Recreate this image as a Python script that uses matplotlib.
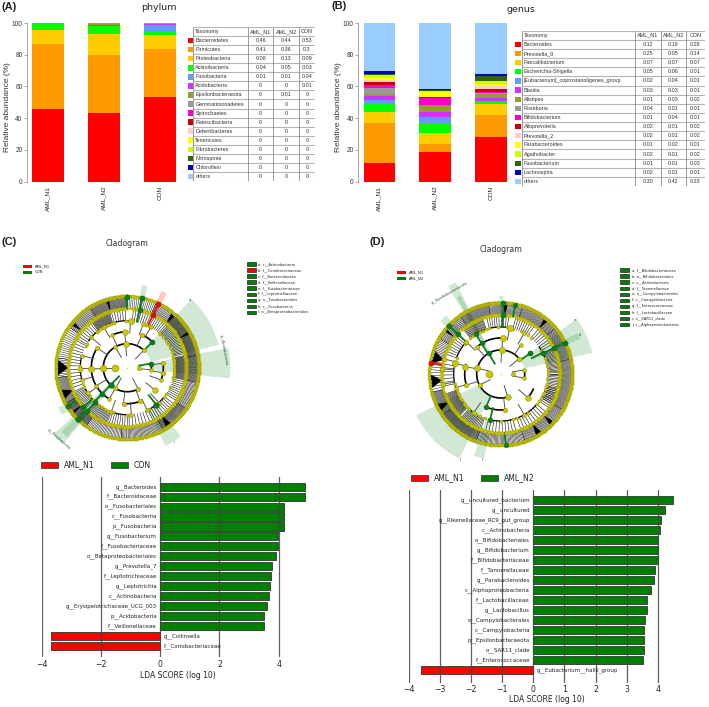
import numpy as np
import matplotlib
matplotlib.use('Agg')
import matplotlib.pyplot as plt
from matplotlib.patches import Wedge, Polygon, Patch

W, H = 709, 707

samples = ['AML_N1', 'AML_N2', 'CON']

""" stacked bars """
colours = ['#FF0000', '#FF9900', '#FFCC00', '#00FF00', '#6699FF', '#CC33FF', '#999933', '#999999',
           '#FF00CC', '#CC0000', '#FFCCCC', '#FFFF00', '#CCFF00', '#336600', '#0000CC', '#99CCFF']

phylum_names = ['Bacteroidetes', 'Firmicutes', 'Proteobacteria', 'Actinobacteria', 'Fusobacteria',
                'Acidobacteria', 'Epsilonbacteraeota', 'Gemmatimonadetes', 'Spirochaetes', 'Patescibacteria',
                'Deferribacteres', 'Tenericutes', 'Fibrobacteres', 'Nitrospirae', 'Chloroflexi', 'others']
phylum_n1 = [45.8, 40.9, 8.9, 3.8, 0.5, 0.02, 0.02, 0.02, 0.01, 0.01, 0, 0, 0, 0, 0, 0.02]
phylum_n2 = [43.4, 36.6, 13.0, 5.1, 0.2, 0.3, 1.0, 0.4, 0, 0, 0, 0, 0, 0, 0, 0]
phylum_con = [53.3, 30.3, 8.6, 2.9, 3.9, 0.5, 0.1, 0.1, 0.3, 0, 0, 0, 0, 0, 0, 0]

phylum_rows = [['0.46', '0.44', '0.53'], ['0.41', '0.36', '0.3'], ['0.08', '0.13', '0.09'], ['0.04', '0.05', '0.03'],
               ['0.01', '0.01', '0.04'], ['0', '0', '0.01'], ['0', '0.01', '0'], ['0', '0', '0'], ['0', '0', '0'],
               ['0', '0', '0'], ['0', '0', '0'], ['0', '0', '0'], ['0', '0', '0'], ['0', '0', '0'], ['0', '0', '0'],
               ['0', '0', '0']]

genus_names = ['Bacteroides', 'Prevotella_9', 'Faecalibacterium', 'Escherichia-Shigella',
               '[Eubacterium]_coprostanoligenes_group', 'Blautia', 'Alistipes', 'Roseburia', 'Bifidobacterium',
               'Alloprevotella', 'Prevotella_2', 'Parabacteroides', 'Agathobacter', 'Fusobacterium', 'Lachnospira',
               'others']
genus_n1 = [11.8, 24.8, 7.0, 5.2, 2.6, 2.5, 1.3, 3.8, 1.6, 2.4, 1.2, 0.8, 2.2, 0.4, 2.4, 30.0]
genus_n2 = [18.9, 4.7, 6.7, 6.1, 4.2, 3.4, 4.0, 0.2, 4.2, 0.9, 0.2, 2.9, 0.6, 0.5, 0.8, 41.7]
genus_con = [27.8, 13.9, 6.9, 1.3, 0.8, 1.7, 2.8, 0.8, 0.2, 2.3, 1.9, 0.9, 2.3, 2.7, 1.3, 32.4]

genus_rows = [['0.12', '0.19', '0.28'], ['0.25', '0.05', '0.14'], ['0.07', '0.07', '0.07'], ['0.05', '0.06', '0.01'],
              ['0.02', '0.04', '0.01'], ['0.03', '0.03', '0.01'], ['0.01', '0.03', '0.02'], ['0.04', '0.01', '0.01'],
              ['0.01', '0.04', '0.01'], ['0.02', '0.01', '0.02'], ['0.02', '0.01', '0.02'], ['0.01', '0.02', '0.01'],
              ['0.02', '0.01', '0.02'], ['0.01', '0.01', '0.03'], ['0.02', '0.01', '0.01'], ['0.30', '0.42', '0.33']]

""" LDA bars """
lda_c_names = ['g__Bacteroides', 'f__Bacteroidaceae', 'o__Fusobacteriales', 'c__Fusobacteriia', 'p__Fusobacteria',
               'g__Fusobacterium', 'f__Fusobacteriaceae', 'o__Betaproteobacteriales', 'g__Prevotella_7',
               'f__Leptotrichiaceae', 'g__Leptotrichia', 'c__Actinobacteria', 'g__Erysipelotrichaceae_UCG_003',
               'p__Acidobacteria', 'f__Veillonellaceae', 'g__Collinsella', 'f__Coriobacteriaceae']
lda_c = [4.88, 4.88, 4.18, 4.18, 4.18, 3.98, 3.98, 3.91, 3.79, 3.73, 3.7, 3.66, 3.61, 3.52, 3.52, -3.7, -3.7]

lda_d_names = ['g__uncultured_bacterium', 'g__uncultured', 'g__Rikenellaceae_RC9_gut_group', 'c__Actinobacteria',
               'o__Bifidobacteriales', 'g__Bifidobacterium', 'f__Bifidobacteriaceae', 'f__Tannerellaceae',
               'g__Parabacteroides', 'c__Alphaproteobacteria', 'f__Lactobacillaceae', 'g__Lactobacillus',
               'o__Campylobacterales', 'c__Campylobacteria', 'p__Epsilonbacteraeota', 'o__SAR11_clade',
               'f__Enterococcaceae', 'g__Eubacterium__hallii_group']
lda_d = [4.5, 4.22, 4.11, 4.08, 4.02, 4.02, 4.02, 3.9, 3.89, 3.8, 3.65, 3.64, 3.59, 3.57, 3.56, 3.55, 3.54, -3.62]

""" cladogram legends """
key_c = ['a: c__Actinobacteria', 'b: f__Coriobacteriaceae', 'c: f__Bacteroidaceae', 'd: f__Veillonellaceae',
         'e: f__Fusobacteriaceae', 'f: f__Leptotrichiaceae', 'g: o__Fusobacteriales', 'h: c__Fusobacteriia',
         'i: o__Betaproteobacteriales']
key_c_col = ['g', 'r', 'g', 'g', 'g', 'g', 'g', 'g', 'g']
key_d = ['a: f__Bifidobacteriaceae', 'b: o__Bifidobacteriales', 'c: c__Actinobacteria', 'd: f__Tannerellaceae',
         'e: o__Campylobacterales', 'f: c__Campylobacteria', 'g: f__Enterococcaceae', 'h: f__Lactobacillaceae',
         'i: o__SAR11_clade', 'j: c__Alphaproteobacteria']
key_d_col = ['g'] * 10

""" cladogram C, all read off the picture: (angle deg, radius px, ...) """
c_wedges = [(14, 47, 24, 94), (-6, 11, 24, 103), (-64, -52, 48, 87), (222, 230, 24, 100), (224, 229, 36, 92),
            (210, 216, 59, 80), (76, 80, 59, 84), (62, 66, 59, 84)]
c_wedge_col = ['g', 'g', 'g', 'g', 'g', 'g', 'g', 'r']
c_arcs = [(24, 47, 297), (24, -5, 10), (36, 94, 115), (36, 147, 240), (36, 264, 291), (36, -20, 7), (36, 46, 66),
          (47, 165, 195), (47, 250, 275), (47, 295, 321), (47, 86, 145), (47, 205, 240)]
c_fan = [(-12, 12, 30), (14, 46, 22), (48, 62, 7), (66, 84, 8), (92, 106, 6), (108, 128, 24), (130, 150, 8),
         (152, 178, 9), (182, 200, 6), (204, 224, 14), (228, 250, 18), (252, 270, 8), (272, 296, 8),
         (298, 322, 10), (326, 346, 10)]
c_leaf = [(-12, 10, 36), (10, 48, 70), (48, 66, 18), (66, 90, 16), (90, 122, 50), (122, 145, 24), (145, 172, 16),
          (172, 188, 12), (188, 210, 28), (210, 235, 44), (235, 265, 26), (265, 300, 36), (300, 325, 40),
          (325, 348, 24)]
c_black = [(173, 187), (198, 207), (139, 143), (47, 51), (-57, -52), (105, 108), (218, 221), (28, 31)]
c_nodes = [(180, 12, 26, 'y'), (0, 12, 11, 'y'),
           (94, 24, 17, 'y'), (120, 24, 8, 'y'), (180, 24, 22, 'y'), (240, 24, 11, 'y'), (297, 24, 11, 'y'),
           (47, 24, 11, 'y'), (-5, 24, 8, 'y'), (10, 24, 14, 'g'), (226, 24, 17, 'g'),
           (182, 36, 20, 'y'), (147, 36, 11, 'y'), (94, 36, 17, 'y'), (115, 36, 8, 'y'), (264, 36, 11, 'y'),
           (291, 36, 11, 'y'), (321, 36, 17, 'y'), (66, 36, 11, 'y'), (7, 36, 11, 'y'), (-8, 36, 11, 'y'),
           (-20, 36, 8, 'y'), (46, 36, 14, 'g'), (226, 36, 14, 'g'), (240, 36, 8, 'y'), (210, 36, 8, 'y'),
           (181, 47, 14, 'y'), (165, 47, 8, 'y'), (195, 47, 8, 'y'), (86, 47, 20, 'y'), (120, 47, 8, 'y'),
           (140, 47, 8, 'y'), (213, 47, 8, 'y'), (250, 47, 8, 'y'), (275, 47, 8, 'y'), (295, 47, 8, 'y'),
           (312, 47, 8, 'y'), (60, 47, 8, 'y'), (70, 47, 8, 'y'), (226, 47, 14, 'g'), (308, 47, 17, 'g'),
           (227, 59, 14, 'g'), (222, 59, 14, 'g'), (78, 59, 14, 'g'), (64, 59, 14, 'r'),
           (226, 71, 17, 'g'), (78, 71, 14, 'g'), (90, 71, 14, 'g'), (213, 71, 14, 'g'), (64, 71, 14, 'r')]
c_labels = [(10.6, 98, 'p__Acidobacteria', -80), (226.6, 99, 'p__Fusobacteria', -42), (47, 92, 'a', 0),
            (-58, 88, 'i', 0)]

""" cladogram D """
d_wedges = [(13, 36, 24, 94), (206, 244, 24, 94), (252, 259, 47, 86), (116, 121, 24, 102), (117, 120, 36, 88),
            (133, 139, 59, 80), (88, 91, 59, 78), (24, 28, 36, 87)]
d_wedge_col = ['g'] * 8
d_arcs = [(24, 35, 288), (24, -10, 10), (36, 87, 132), (36, 165, 200), (36, 246, 277), (36, 319, 335), (47, 79, 122),
          (47, 165, 197), (47, 137, 160), (47, 257, 320), (47, 20, 35), (47, 205, 240)]
d_fan = [(-30, 0, 20), (0, 25, 20), (30, 50, 8), (55, 75, 9), (82, 104, 10), (108, 130, 20), (140, 160, 8),
         (170, 192, 7), (200, 225, 26), (228, 250, 16), (255, 285, 10), (290, 320, 10), (325, 345, 10)]
d_leaf = [(-30, 12, 56), (12, 40, 36), (40, 72, 40), (72, 100, 32), (100, 125, 34), (125, 150, 26), (150, 165, 12),
          (165, 195, 14), (195, 215, 28), (215, 250, 60), (250, 290, 40), (290, 330, 46)]
d_black = [(160, 172), (180, 192), (205, 212), (48, 52), (-46, -42), (-60, -55), (84, 88), (140, 143)]
d_nodes = [(180, 12, 26, 'y'), (0, 12, 10, 'y'),
           (88, 24, 20, 'y'), (120, 24, 13, 'g'), (166, 24, 20, 'y'), (208, 24, 11, 'y'), (287, 24, 17, 'y'),
           (40, 24, 13, 'y'), (10, 24, 8, 'y'), (-10, 24, 8, 'y'),
           (87, 36, 20, 'y'), (168, 36, 20, 'y'), (198, 36, 11, 'y'), (246, 36, 13, 'g'), (277, 36, 11, 'y'),
           (319, 36, 17, 'y'), (122, 36, 13, 'g'), (132, 36, 11, 'y'), (35, 36, 14, 'g'), (55, 36, 8, 'y'),
           (79, 47, 21, 'y'), (167, 47, 20, 'y'), (197, 47, 8, 'y'), (257, 47, 13, 'g'), (27, 47, 14, 'g'),
           (122, 47, 13, 'g'), (137, 47, 11, 'y'), (235, 47, 8, 'y'), (300, 47, 8, 'y'), (60, 47, 8, 'y'),
           (165, 59, 13, 'y'), (175, 59, 13, 'y'), (190, 59, 11, 'y'), (88, 59, 14, 'g'), (26, 59, 14, 'g'),
           (137, 59, 14, 'g'),
           (88, 71, 14, 'g'), (78, 71, 11, 'g'), (26, 71, 14, 'g'), (137, 71, 14, 'g'), (274, 71, 11, 'g'),
           (171, 71, 14, 'r')]
d_labels = [(122, 96, 'p__Epsilonbacteraeota', 30), (36, 92, 'e', 0), (26, 88, 'd', 0), (244, 95, 'j', 0),
            (258, 88, 'f', 0)]

ring_col = {'y': '#C8C800', 'g': '#0A7D1E', 'r': '#FF0000'}


def pixel_axes(x0, y0, x1, y1):
    return fig.add_axes([x0 / W, 1 - y1 / H, (x1 - x0) / W, (y1 - y0) / H])


def fig_text(x, y, s, **kw):
    kw.setdefault('ha', 'center')
    kw.setdefault('va', 'center')
    fig.text(x / W, 1 - y / H, s, **kw)


def stacked(x0, x1, series):
    ax = pixel_axes(x0, 23, x1, 181.5)
    bottom = np.zeros(3)
    for i in range(len(colours)):
        vals = np.array([s[i] for s in series])
        ax.bar(range(3), vals, 0.56, bottom=bottom, color=colours[i], linewidth=0)
        bottom = bottom + vals
    ax.set_xlim(-0.38, 2.36)
    ax.set_ylim(0, 100)
    ax.set_yticks(range(0, 101, 20))
    ax.set_xticks(range(3))
    ax.set_xticklabels(samples, rotation=90, fontsize=4.6, family='Liberation Sans', color='#222222')
    ax.tick_params(axis='y', labelsize=4.7, length=2, width=0.5, pad=1, color='#888888', labelcolor='#333333')
    ax.tick_params(axis='x', length=0, pad=3)
    for t in ax.get_yticklabels():
        t.set_family('Liberation Sans')
    for s in ['top', 'right', 'bottom']:
        ax.spines[s].set_visible(False)
    ax.spines['left'].set_color('#999999')
    ax.spines['left'].set_linewidth(0.6)
    ax.set_ylabel('Relative abundance (%)', fontsize=6, family='Liberation Sans', color='#333333')
    ax.yaxis.set_label_coords(-15.7 / (x1 - x0), 0.467)
    return ax


def taxa_table(x_sw, x_lines, y0, y1, names, rows):
    ax = pixel_axes(x_sw, y0, x_lines[-1], y1)
    nrow = len(names) + 1
    ax.set_xlim(x_sw, x_lines[-1])
    ax.set_ylim(nrow, 0)
    ax.axis('off')
    ax.hlines(range(nrow + 1), x_lines[0], x_lines[-1], color='#B5B5B5', lw=0.8)
    ax.vlines(x_lines, 0, nrow, color='#8A8A8A', lw=0.6)
    ax.text(x_lines[0] + 2, 0.5, 'Taxonomy', fontsize=3.9, family='Liberation Sans', va='center', color='#333333')
    for j, s in enumerate(samples):
        ax.text((x_lines[j + 1] + x_lines[j + 2]) / 2, 0.5, s, fontsize=3.9, family='Liberation Sans',
                ha='center', va='center', color='#333333')
    for i, name in enumerate(names):
        ax.barh(i + 1.5, x_lines[0] - x_sw - 0.5, 0.58, left=x_sw, color=colours[i], linewidth=0)
        ax.text(x_lines[0] + 2, i + 1.5, name, fontsize=3.9, family='Liberation Sans', va='center', color='#333333')
        for j, v in enumerate(rows[i]):
            ax.text((x_lines[j + 1] + x_lines[j + 2]) / 2, i + 1.5, v, fontsize=3.9, family='Liberation Sans',
                    ha='center', va='center', color='#333333')


def polar(a, r):
    return r * np.cos(np.radians(a)), r * np.sin(np.radians(a))


def cladogram(cx, cy, wedges, wedge_col, arcs, fan, leaf, black, nodes, labels):
    ax = pixel_axes(cx - 115, cy - 115, cx + 115, cy + 115)
    ax.set_xlim(-115, 115)
    ax.set_ylim(-115, 115)
    ax.axis('off')
    for (a0, a1, r0, r1), c in zip(wedges, wedge_col):
        fc = '#FF0000' if c == 'r' else '#2E9B3C'
        ax.add_patch(Wedge((0, 0), r1, a0, a1, width=r1 - r0, facecolor=fc, alpha=0.22, linewidth=0, zorder=1))
    # thin branches between the rings
    for r0, r1, sectors, lw in [(47, 59, fan, 0.4), (59, 71.5, leaf, 0.35)]:
        for a0, a1, n in sectors:
            for a in np.linspace(a0, a1, n):
                x0, y0 = polar(a, r0)
                x1, y1 = polar(a, r1)
                ax.plot([x0, x1], [y0, y1], color='#111111', lw=lw, zorder=2)
    for a0, a1 in black:
        tip = polar((a0 + a1) / 2, 59)
        ax.add_patch(Polygon([tip, polar(a0, 71), polar(a1, 71)], facecolor='black', linewidth=0, zorder=2))
    for r, a0, a1 in arcs:
        t = np.linspace(a0, a1, 80)
        x, y = polar(t, r)
        ax.plot(x, y, color='black', lw=1.2 if r < 40 else 0.9, zorder=3)
    # the two dense rings of yellow nodes
    t = np.linspace(0, 360, 200)
    for r in [59, 71.5]:
        x, y = polar(t, r)
        ax.plot(x, y, color='#C8C800', lw=1.7, zorder=3.5)
    for r, sectors, s in [(47, fan, 5), (59, fan, 6), (71.5, leaf, 5)]:
        for a0, a1, n in sectors:
            m = n // 3 if r == 47 else n
            x, y = polar(np.linspace(a0, a1, m), r)
            ax.scatter(x, y, s=s, color='#C8C800', edgecolor='#8F8F00', linewidth=0.25, zorder=4)
    for a, r, s, c in nodes:
        x0, y0 = polar(a, r - 12)
        x1, y1 = polar(a, r)
        if r > 12:
            ax.plot([x0, x1], [y0, y1], color='#555555' if c == 'y' else ring_col[c],
                    lw=0.7 if c == 'y' else 1.3, zorder=3.6)
        ax.scatter([x1], [y1], s=s, color=ring_col[c], edgecolor='#6E6E00' if c == 'y' else '#0B5014',
                   linewidth=0.25, zorder=5)
    ax.scatter([0], [0], s=0.6, color='#C8C800', linewidth=0, zorder=5)
    for a, r, s, rot in labels:
        x, y = polar(a, r)
        ax.text(x, y, s, fontsize=2.6, rotation=rot, ha='center', va='center', color='#1D4F28', zorder=6)


def side_key(x_sw, x_text, y0, dy, names, cols):
    ax = pixel_axes(x_sw, y0 - dy, x_sw + 90, y0 + dy * len(names))
    ax.set_xlim(x_sw, x_sw + 90)
    ax.set_ylim(len(names), -1)
    ax.axis('off')
    for i, (s, c) in enumerate(zip(names, cols)):
        ax.barh(i, 8.5, 0.55, left=x_sw, color='#FF0000' if c == 'r' else '#008000', edgecolor='#222222', linewidth=0.5)
        ax.text(x_text, i, s, fontsize=2.6, va='center', color='#222222')


def group_key(x_sw, x_text, y0, names):
    ax = pixel_axes(x_sw, y0 - 3, x_sw + 40, y0 + 9)
    ax.set_xlim(x_sw, x_sw + 40)
    ax.set_ylim(1.5, -0.5)
    ax.axis('off')
    for i, (s, c) in enumerate(zip(names, ['#FF0000', '#008000'])):
        ax.barh(i, 8.5, 0.5, left=x_sw, color=c, linewidth=0)
        ax.text(x_text, i, s, fontsize=2.7, va='center', color='#222222')


def lda(x_left, x_zero, x_unit, top, bottom, first, step, vals, names, ticks, groups, leg_xy, label_y):
    xmax = max(vals) + 0.05
    x_right = x_zero + xmax * x_unit
    ax = pixel_axes(x_left, top, x_right, bottom)
    n = (bottom - first) / step
    ax.set_xlim((x_left - x_zero) / x_unit, xmax)
    ax.set_ylim(n, (top - first) / step)
    ax.barh(range(len(vals)), vals, 0.82, color=['#008000' if v > 0 else '#FF0000' for v in vals],
            edgecolor='#333333', linewidth=0.6)
    ax.set_axisbelow(False)
    ax.xaxis.grid(True, color='#444444', lw=0.9, alpha=0.85)
    ax.set_yticks([])
    ax.set_xticks(ticks)
    ax.tick_params(axis='x', length=0, labelsize=5.6, pad=2, labelcolor='#222222')
    for s in ax.spines.values():
        s.set_visible(False)
    for i, (s, v) in enumerate(zip(names, vals)):
        if v > 0:
            ax.text(-0.11, i, s, ha='right', va='center', fontsize=3.95, color='#222222')
        else:
            ax.text(0.11, i, s, ha='left', va='center', fontsize=3.95, color='#222222')
    fig_text(x_zero + (label_y[0]), label_y[1], 'LDA SCORE (log 10)', fontsize=5.5, color='#222222')
    handles = [Patch(facecolor='#FF0000', edgecolor='#444444', linewidth=0.6),
               Patch(facecolor='#008000', edgecolor='#444444', linewidth=0.6)]
    fig.legend(handles, groups, ncol=2, frameon=False, fontsize=5.6, loc='center left',
               bbox_to_anchor=(leg_xy[0] / W, 1 - leg_xy[1] / H), borderpad=0, borderaxespad=0,
               handlelength=2.2, handleheight=0.9, handletextpad=0.8, columnspacing=2.0, labelcolor='#222222')


fig = plt.figure(figsize=(W / 100, H / 100), dpi=100)

# (A) and (B)
stacked(26.7, 180, [phylum_n1, phylum_n2, phylum_con])
stacked(358, 511, [genus_n1, genus_n2, genus_con])
taxa_table(188.3, [193.3, 248.3, 273.3, 299, 315], 27.3, 180.7, phylum_names, phylum_rows)
taxa_table(515, [521.7, 635, 660.7, 686, 705], 30.7, 186, genus_names, genus_rows)

# (C) and (D)
cladogram(127.3, 367.7, c_wedges, c_wedge_col, c_arcs, c_fan, c_leaf, c_black, c_nodes, c_labels)
cladogram(500.7, 374, d_wedges, d_wedge_col, d_arcs, d_fan, d_leaf, d_black, d_nodes, d_labels)
group_key(23.5, 35, 266, ['AML_N1', 'CON'])
group_key(397, 408.7, 272, ['AML_N1', 'AML_N2'])
side_key(247, 258, 264, 6.04, key_c, key_c_col)
side_key(620, 631.7, 270, 6.07, key_d, key_d_col)

# LDA bars
lda(41.7, 160, 29.67, 477, 657, 486.7, 9.94, lda_c, lda_c_names, [-4, -2, 0, 2, 4], ['AML_N1', 'CON'], (41, 465),
    (17.7, 675))
lda(409, 533.3, 31.1, 490, 682.7, 499.7, 10.02, lda_d, lda_d_names, list(range(-4, 5)), ['AML_N1', 'AML_N2'],
    (411, 478), (13.7, 700))

# titles and panel letters
fig_text(158.7, 7.5, 'phylum', fontsize=6.8, color='#222222')
fig_text(520.7, 9, 'genus', fontsize=6.8, color='#222222')
fig_text(127, 243, 'Cladogram', fontsize=5.6, color='#333333')
fig_text(500.7, 249, 'Cladogram', fontsize=5.6, color='#333333')
for x, y, s in [(1, 7, '(A)'), (331, 6, '(B)'), (1, 241.7, '(C)'), (370, 241.7, '(D)')]:
    fig_text(x, y, s, ha='left', fontsize=8, fontweight='bold', family='Liberation Sans', color='#222222')

plt.savefig('out.png', dpi=100)
